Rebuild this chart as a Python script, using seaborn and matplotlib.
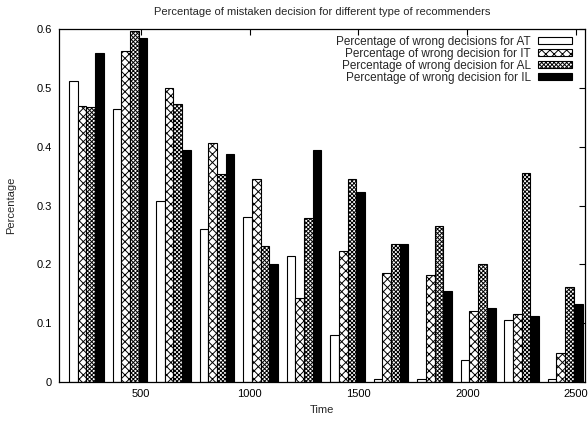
import pandas as pd
import matplotlib
matplotlib.use('Agg')
import matplotlib.pyplot as plt
import seaborn as sns

# data
times = [250, 450, 650, 850, 1050, 1250, 1450, 1650, 1850, 2050, 2250, 2450]
at_vals = [0.512, 0.464, 0.308, 0.260, 0.280, 0.214, 0.080, 0.005, 0.005, 0.037, 0.105, 0.005]
it_vals = [0.469, 0.562, 0.500, 0.407, 0.345, 0.142, 0.223, 0.185, 0.182, 0.120, 0.116, 0.050]
al_vals = [0.467, 0.596, 0.473, 0.354, 0.231, 0.278, 0.345, 0.234, 0.266, 0.200, 0.355, 0.162]
il_vals = [0.559, 0.584, 0.395, 0.388, 0.201, 0.395, 0.323, 0.234, 0.154, 0.125, 0.112, 0.133]
labels = ['Percentage of wrong decisions for AT',
          'Percentage of wrong decision for IT',
          'Percentage of wrong decision for AL',
          'Percentage of wrong decision for IL']
series = ['AT', 'IT', 'AL', 'IL']

rows = []
for name, vals in zip(series, [at_vals, it_vals, al_vals, il_vals]):
    for t, v in zip(times, vals):
        rows.append({'Time': t, 'Percentage': v, 'Type': name})
df = pd.DataFrame(rows)

sns.set_style('white')
plt.rcParams['font.family'] = ['Liberation Sans', 'DejaVu Sans']
plt.rcParams['hatch.linewidth'] = 0.7
plt.rcParams['font.size'] = 8

fig = plt.figure(figsize=(5.88, 4.23), dpi=100)
ax = fig.add_axes([0.1003, 0.0969, 0.8946, 0.8345])

palette = {'AT': 'white', 'IT': 'white', 'AL': 'white', 'IL': 'black'}
sns.barplot(data=df, x='Time', y='Percentage', hue='Type', hue_order=series,
            palette=palette, native_scale=True, width=0.8, saturation=1,
            edgecolor='black', linewidth=0.8, legend=False, ax=ax)

# gnuplot-like fill patterns
hatches = ['', 'xxxx', 'xxxxxxxx', '']
for cont, h in zip(ax.containers, hatches):
    for p in cont:
        p.set_hatch(h)
        p.set_edgecolor('black')

ax.set_xlim(124, 2541)
ax.set_ylim(0, 0.6)
ax.set_xticks([500, 1000, 1500, 2000, 2500])
ax.set_xticklabels(['500', '1000', '1500', '2000', '2500'])
ax.set_yticks([0, 0.1, 0.2, 0.3, 0.4, 0.5, 0.6])
ax.set_yticklabels(['0', '0.1', '0.2', '0.3', '0.4', '0.5', '0.6'])
ax.tick_params(direction='in', length=4, width=0.8, top=True, right=True,
               labelsize=8, pad=5, colors='black')
for s in ax.spines.values():
    s.set_visible(True)
    s.set_color('black')
    s.set_linewidth(0.9)

ax.set_xlabel('Time', fontsize=8, labelpad=4)
ax.set_ylabel('Percentage', fontsize=8, labelpad=15)
ax.set_title('Percentage of mistaken decision for different type of recommenders',
             fontsize=8, pad=10)

ax.legend(ax.containers, labels, loc='upper right', bbox_to_anchor=(0.993, 1.008),
          frameon=False, markerfirst=False, fontsize=8.5, handlelength=2.9,
          handleheight=0.6, handletextpad=0.6, labelspacing=0.0, borderpad=0.3)

fig.savefig('out.png', dpi=100)
